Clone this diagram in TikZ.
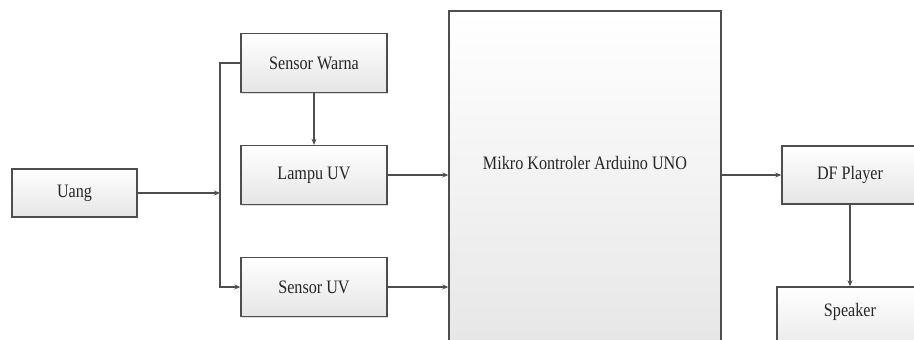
\documentclass[tikz,border=0pt]{standalone}
\usepackage{fontspec}
\setmainfont[FakeStretch=0.85]{Liberation Serif}
\usetikzlibrary{arrows.meta,shadows}
\definecolor{edge}{HTML}{4E4E4E}
\definecolor{txt}{HTML}{262626}
\tikzset{
  txtfont/.style={text=txt, font=\fontsize{19}{22}\selectfont},
  blk/.style={draw=edge, line width=1.4pt, rectangle, inner sep=0pt,
    top color=white, bottom color=black!10, txtfont,
    drop shadow={shadow xshift=1pt, shadow yshift=-1pt, opacity=0.25}},
  conn/.style={draw=edge, line width=1.4pt},
  arr/.style={conn, -{Stealth[length=6pt,width=5pt]}}
}
\begin{document}
\begin{tikzpicture}[x=1pt,y=-1pt]
\useasboundingbox (0,0) rectangle (914,340);
\clip (0,0) rectangle (914,340);
\fill[white] (0,0) rectangle (914,340);
\node[blk, minimum width=125pt, minimum height=48pt] (uang) at (74.5,193) {Uang};
\node[blk, minimum width=146pt, minimum height=59pt] (sw) at (314,63) {Sensor Warna};
\node[blk, minimum width=146pt, minimum height=59pt] (luv) at (314,175) {Lampu UV};
\node[blk, minimum width=146pt, minimum height=59pt] (suv) at (314,287) {Sensor UV};
\node[blk, minimum width=272pt, minimum height=349pt,
  label={[txtfont, yshift=22.5pt]center:Mikro Kontroler Arduino UNO}] (mk) at (585,185.5) {};
\node[blk, minimum width=136pt, minimum height=58pt] (df) at (850,175) {DF Player};
\node[blk, minimum width=146pt, minimum height=73pt,
  label={[txtfont, yshift=11.5pt]center:Speaker}] (sp) at (850,323.5) {};
\coordinate (j) at (220,193);
\draw[arr] (uang.east) -- (j);
\draw[arr] (sw.west) -- (sw.west -| j) -- (suv.west -| j) -- (suv.west);
\draw[arr] (sw.south) -- (luv.north);
\draw[arr] (luv.east) -- (luv.east -| mk.west);
\draw[arr] (suv.east) -- (suv.east -| mk.west);
\draw[arr] (df.west -| mk.east) -- (df.west);
\draw[arr] (df.south) -- (sp.north);
\end{tikzpicture}
\end{document}
